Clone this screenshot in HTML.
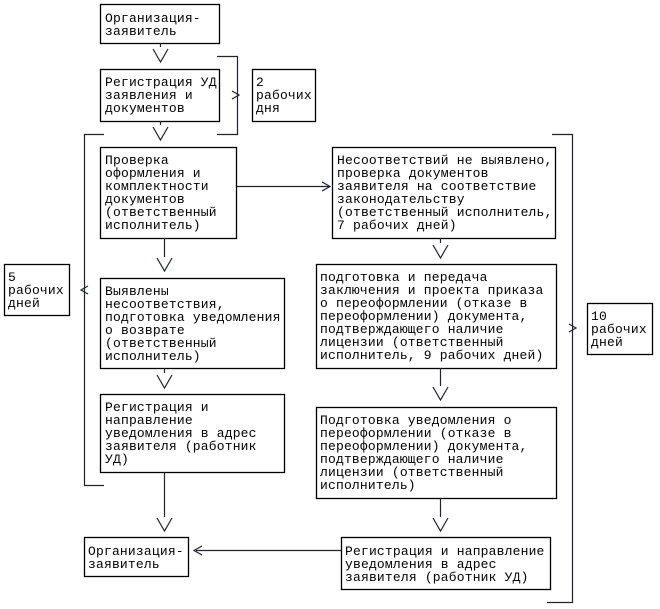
<!DOCTYPE html>
<html><head><meta charset="utf-8"><style>
html,body{margin:0;padding:0;background:#fff;}
svg{display:block;}
text{font-family:"Liberation Mono","DejaVu Sans Mono",monospace;font-size:13px;fill:#000;letter-spacing:0.18px;}
</style></head><body>
<svg width="660" height="609" viewBox="0 0 660 609" xmlns="http://www.w3.org/2000/svg">
<g fill="none" stroke="#000" stroke-width="1.3">
<rect x="100.5" y="4.5" width="119" height="39"/>
<rect x="100.5" y="69.5" width="119" height="52"/>
<rect x="252.5" y="69.5" width="63" height="52"/>
<rect x="100.5" y="147.5" width="136" height="91"/>
<rect x="332.5" y="147.5" width="223" height="91"/>
<rect x="4.5" y="264.5" width="65" height="51"/>
<rect x="100.5" y="278.5" width="184" height="90"/>
<rect x="316.5" y="264.5" width="240" height="104"/>
<rect x="587.5" y="303.5" width="65" height="51"/>
<rect x="100.5" y="394.5" width="184" height="78"/>
<rect x="316.5" y="407.5" width="240" height="91"/>
<rect x="84.5" y="537.5" width="104" height="39"/>
<rect x="341.5" y="537.5" width="209" height="52"/>
</g>
<g fill="none" stroke="#223" stroke-width="1.2">
<polyline points="217,56.5 237.5,56.5 237.5,134.5 217,134.5"/>
<polyline points="104,134.5 84.5,134.5 84.5,485.5 104,485.5"/>
<polyline points="552,134.5 572.5,134.5 572.5,602.5 547,602.5"/>
<line x1="160.5" y1="43" x2="160.5" y2="47"/>
<polyline points="153,49 160.5,62 168,49"/>
<line x1="160.5" y1="121" x2="160.5" y2="125"/>
<polyline points="153,127 160.5,140 168,127"/>
<line x1="164.5" y1="238" x2="164.5" y2="257"/>
<polyline points="157,258 164.5,271 172,258"/>
<line x1="164.5" y1="368" x2="164.5" y2="373"/>
<polyline points="157,375 164.5,388 172,375"/>
<line x1="164.5" y1="472" x2="164.5" y2="517"/>
<polyline points="157,518 164.5,531 172,518"/>
<line x1="440.5" y1="238" x2="440.5" y2="243"/>
<polyline points="433,245 440.5,258 448,245"/>
<line x1="440.5" y1="368" x2="440.5" y2="386"/>
<polyline points="433,387 440.5,400 448,387"/>
<line x1="440.5" y1="498" x2="440.5" y2="517"/>
<polyline points="433,518 440.5,531 448,518"/>
<line x1="237" y1="186.5" x2="329" y2="186.5"/>
<polyline points="322,182 330,186.5 322,191"/>
<line x1="196" y1="550.5" x2="341" y2="550.5"/>
<polyline points="202,546 194,550.5 202,555"/>
<polyline points="232,91 239,95 232,99"/>
<polyline points="88,286 81,290 88,294"/>
<polyline points="569,324 576,328 569,332"/>
</g>
<text x="105" y="22">Организация-</text>
<text x="105" y="35">заявитель</text>
<text x="105" y="86">Регистрация УД</text>
<text x="105" y="99">заявления и</text>
<text x="105" y="112">документов</text>
<text x="256" y="86">2</text>
<text x="256" y="99">рабочих</text>
<text x="256" y="112">дня</text>
<text x="105" y="164">Проверка</text>
<text x="105" y="177">оформления и</text>
<text x="105" y="190">комплектности</text>
<text x="105" y="203">документов</text>
<text x="105" y="216">(ответственный</text>
<text x="105" y="229">исполнитель)</text>
<text x="337" y="164">Несоответствий не выявлено,</text>
<text x="337" y="177">проверка документов</text>
<text x="337" y="190">заявителя на соответствие</text>
<text x="337" y="203">законодательству</text>
<text x="337" y="216">(ответственный исполнитель,</text>
<text x="337" y="229">7 рабочих дней)</text>
<text x="8" y="281">5</text>
<text x="8" y="294">рабочих</text>
<text x="8" y="307">дней</text>
<text x="105" y="295">Выявлены</text>
<text x="105" y="308">несоответствия,</text>
<text x="105" y="321">подготовка уведомления</text>
<text x="105" y="334">о возврате</text>
<text x="105" y="347">(ответственный</text>
<text x="105" y="360">исполнитель)</text>
<text x="320" y="281">подготовка и передача</text>
<text x="320" y="294">заключения и проекта приказа</text>
<text x="320" y="307">о переоформлении (отказе в</text>
<text x="320" y="320">переоформлении) документа,</text>
<text x="320" y="333">подтверждающего наличие</text>
<text x="320" y="346">лицензии (ответственный</text>
<text x="320" y="359">исполнитель, 9 рабочих дней)</text>
<text x="591" y="320">10</text>
<text x="591" y="333">рабочих</text>
<text x="591" y="346">дней</text>
<text x="105" y="411">Регистрация и</text>
<text x="105" y="424">направление</text>
<text x="105" y="437">уведомления в адрес</text>
<text x="105" y="450">заявителя (работник</text>
<text x="105" y="463">УД)</text>
<text x="320" y="424">Подготовка уведомления о</text>
<text x="320" y="437">переоформлении (отказе в</text>
<text x="320" y="450">переоформлении) документа,</text>
<text x="320" y="463">подтверждающего наличие</text>
<text x="320" y="476">лицензии (ответственный</text>
<text x="320" y="489">исполнитель)</text>
<text x="88" y="555">Организация-</text>
<text x="88" y="568">заявитель</text>
<text x="345" y="555">Регистрация и направление</text>
<text x="345" y="568">уведомления в адрес</text>
<text x="345" y="581">заявителя (работник УД)</text>
</svg>
</body></html>
